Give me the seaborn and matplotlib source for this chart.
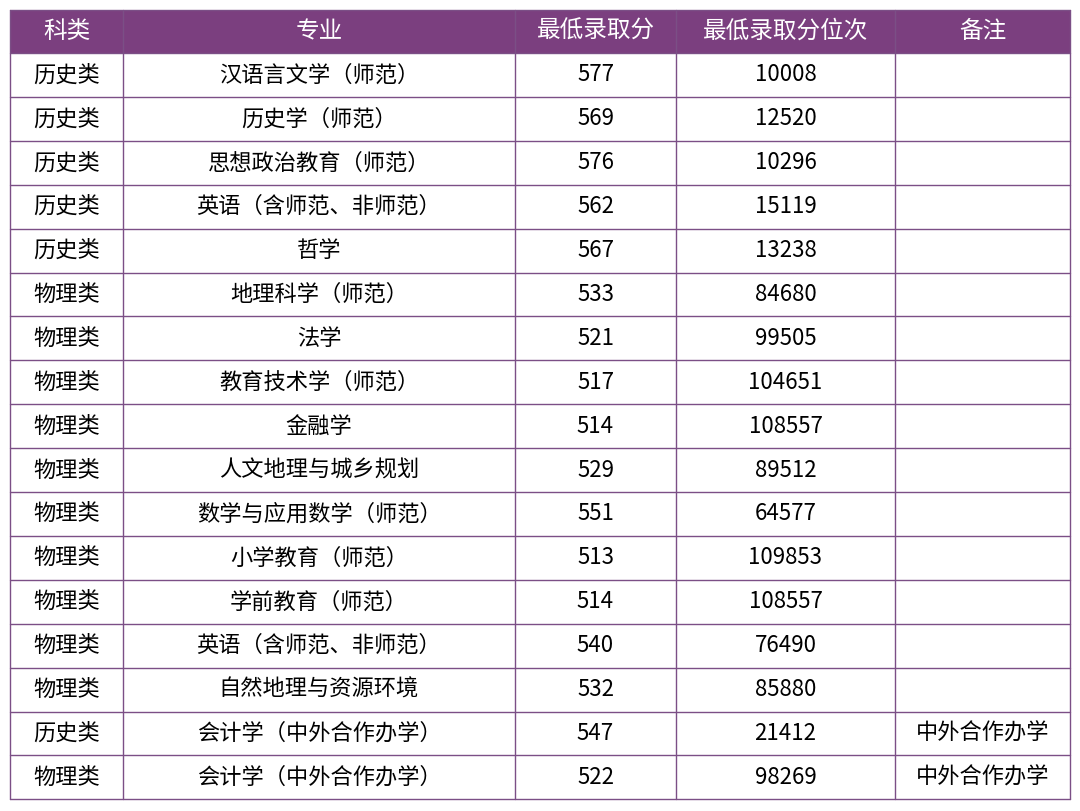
import matplotlib
matplotlib.use("Agg")
import matplotlib.pyplot as plt
import seaborn as sns
from matplotlib.patches import Rectangle

sns.set_theme(style="white")
plt.rcParams['font.family'] = ['Noto Sans CJK SC', 'DejaVu Sans']

headers = ["科类", "专业", "最低录取分", "最低录取分位次", "备注"]
subjects = ["历史类", "历史类", "历史类", "历史类", "历史类", "物理类", "物理类", "物理类",
            "物理类", "物理类", "物理类", "物理类", "物理类", "物理类", "物理类", "历史类", "物理类"]
majors = ["汉语言文学（师范）", "历史学（师范）", "思想政治教育（师范）", "英语（含师范、非师范）",
          "哲学", "地理科学（师范）", "法学", "教育技术学（师范）", "金融学", "人文地理与城乡规划",
          "数学与应用数学（师范）", "小学教育（师范）", "学前教育（师范）", "英语（含师范、非师范）",
          "自然地理与资源环境", "会计学（中外合作办学）", "会计学（中外合作办学）"]
min_scores = [577, 569, 576, 562, 567, 533, 521, 517, 514, 529, 551, 513, 514, 540, 532, 547, 522]
min_ranks = [10008, 12520, 10296, 15119, 13238, 84680, 99505, 104651, 108557, 89512,
             64577, 109853, 108557, 76490, 85880, 21412, 98269]
notes = [""] * 15 + ["中外合作办学", "中外合作办学"]

col_edges = [10, 123, 515, 676, 895, 1070]
top, header_h, row_h = 10, 43, 43.9
header_color = "#7B3F7F"
line_color = "#7B4F86"

fig = plt.figure(figsize=(10.8, 8.11), dpi=100)
ax = fig.add_axes([0, 0, 1, 1])
ax.set_xlim(0, 1080)
ax.set_ylim(811, 0)
ax.axis("off")

# header
ax.add_patch(Rectangle((col_edges[0], top), col_edges[-1] - col_edges[0], header_h,
                       facecolor=header_color, edgecolor="none"))
for i, h in enumerate(headers):
    cx = (col_edges[i] + col_edges[i + 1]) / 2
    ax.text(cx, top + header_h / 2, h, ha="center", va="center", color="white", fontsize=17)

rows = list(zip(subjects, majors, min_scores, min_ranks, notes))
for r, row in enumerate(rows):
    y0 = top + header_h + r * row_h
    for i, val in enumerate(row):
        cx = (col_edges[i] + col_edges[i + 1]) / 2
        ax.text(cx, y0 + row_h / 2, str(val), ha="center", va="center",
                color="black", fontsize=16)

bottom = top + header_h + len(rows) * row_h
for r in range(len(rows) + 1):
    y = top + header_h + r * row_h
    ax.plot([col_edges[0], col_edges[-1]], [y, y], color=line_color, lw=1)
ax.plot([col_edges[0], col_edges[-1]], [top, top], color=line_color, lw=1)
for x in col_edges:
    ax.plot([x, x], [top, bottom], color=line_color, lw=1)

fig.savefig("out.png", dpi=100)
